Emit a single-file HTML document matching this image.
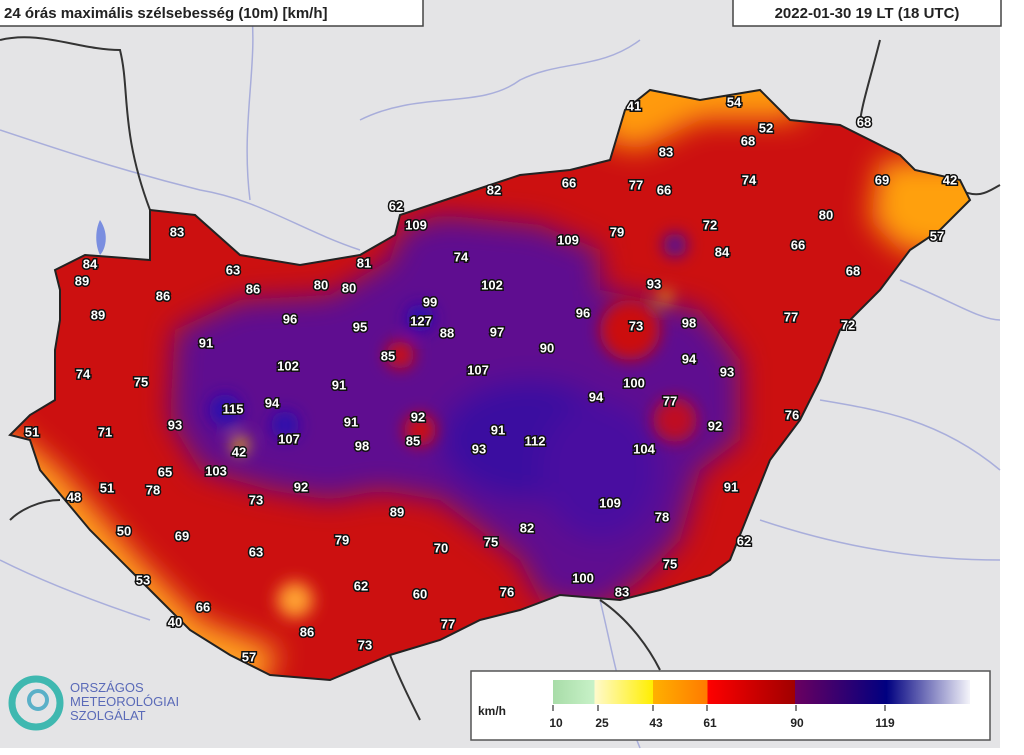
<!DOCTYPE html>
<html><head><meta charset="utf-8"><style>
html,body{margin:0;padding:0;background:#fff;}
svg{display:block}
.l text{font-family:"Liberation Sans",sans-serif;font-weight:bold;font-size:13px;fill:#fff;stroke:#111;stroke-width:3px;paint-order:stroke;text-anchor:middle;dominant-baseline:central}
</style></head><body>
<svg width="1024" height="755" viewBox="0 0 1024 755" xmlns="http://www.w3.org/2000/svg">
<defs>
<filter id="b" x="-30%" y="-30%" width="160%" height="160%"><feGaussianBlur stdDeviation="14"/></filter>
<filter id="b2" x="-30%" y="-30%" width="160%" height="160%"><feGaussianBlur stdDeviation="8"/></filter>
<clipPath id="hu"><path id="hp" d="M55,270 L85,255 L150,260 L150,210 L195,215 L240,255 L300,265 L360,255 L395,235 L400,215 L460,195 L520,175 L570,170 L610,160 L625,110 L650,90 L700,100 L760,90 L790,120 L840,125 L900,155 L915,170 L960,180 L970,200 L940,230 L910,250 L880,290 L840,330 L820,380 L800,420 L770,460 L750,510 L730,560 L710,575 L660,590 L620,600 L560,595 L520,610 L480,620 L440,640 L390,655 L330,680 L270,675 L230,655 L190,630 L160,600 L130,570 L90,530 L40,470 L30,440 L10,435 L30,415 L55,400 L55,350 L60,320 L60,290 Z"/></clipPath>
<linearGradient id="lg" x1="0" x2="1"><stop offset="0" stop-color="#a8dca8"/><stop offset="0.1" stop-color="#c8f2c8"/><stop offset="0.1" stop-color="#fffacc"/><stop offset="0.24" stop-color="#ffee00"/><stop offset="0.24" stop-color="#ffb000"/><stop offset="0.37" stop-color="#ff7a00"/><stop offset="0.37" stop-color="#ff0000"/><stop offset="0.58" stop-color="#a00000"/><stop offset="0.58" stop-color="#6a0060"/><stop offset="0.8" stop-color="#000080"/><stop offset="1" stop-color="#f4f4fa"/></linearGradient>
</defs>
<rect width="1024" height="755" fill="#fff"/>
<rect width="1000" height="748" fill="#e4e4e6"/>
<g fill="none" stroke="#9aa0d8" stroke-width="1.5" opacity="0.8">
<path d="M0,130 C60,150 120,170 200,190 C260,200 300,230 360,250"/>
<path d="M250,0 C260,60 240,120 250,200"/>
<path d="M360,120 C420,90 480,110 520,80 C560,60 600,70 640,40"/>
<path d="M900,280 C950,300 980,320 1000,320"/>
<path d="M820,400 C880,410 940,420 1000,470"/>
<path d="M760,520 C820,540 900,560 1000,560"/>
<path d="M0,560 C40,580 90,600 150,620"/>
<path d="M600,600 C610,640 620,700 640,748"/>
</g>
<g fill="none" stroke="#333" stroke-width="2">
<path d="M0,40 C40,30 80,50 120,50 C130,90 120,130 150,210"/>
<path d="M880,40 C870,80 860,110 860,125"/>
<path d="M960,190 C980,200 990,190 1000,185"/>
<path d="M10,520 C20,510 40,500 60,500"/>
<path d="M600,600 C630,620 650,650 660,670"/>
<path d="M390,655 C400,680 410,700 420,720"/>
</g>
<path d="M100,220 C110,235 105,250 100,255 C95,245 95,230 100,220Z" fill="#7a8ee0"/>
<g clip-path="url(#hu)">
<rect width="1024" height="755" fill="#cc1010"/>
<g filter="url(#b)">
<path d="M0,420 L60,470 L140,560 L200,620 L280,650 L260,690 L160,700 L60,640 L0,560Z" fill="#ffa020"/>
<path d="M600,60 L800,60 L800,120 L700,120 L640,150 L600,140Z" fill="#ff9a10"/>
<path d="M880,160 L1000,160 L1000,260 L900,250 L870,220Z" fill="#ffa010"/>
<path d="M175,330 L240,300 L330,295 L390,260 L400,230 L440,215 L540,225 L600,250 L600,290 L700,310 L740,360 L740,440 L700,470 L680,540 L640,580 L600,610 L540,600 L520,560 L440,500 L380,490 L330,500 L270,490 L200,470 L170,420 Z" fill="#5e1090"/>
<ellipse cx="530" cy="440" rx="90" ry="60" fill="#3a0aa0"/>
<ellipse cx="600" cy="470" rx="60" ry="70" fill="#4a0aa0"/>
</g>
<g filter="url(#b2)">
<circle cx="400" cy="355" r="14" fill="#d01010"/>
<circle cx="420" cy="430" r="16" fill="#d01010"/>
<circle cx="630" cy="330" r="30" fill="#cc1010"/>
<circle cx="675" cy="420" r="22" fill="#c01020"/>
<circle cx="295" cy="600" r="18" fill="#ffa030"/>
<circle cx="240" cy="445" r="8" fill="#ffd000"/>
<circle cx="665" cy="297" r="6" fill="#ffe000"/>
<circle cx="675" cy="245" r="12" fill="#4a0aa0"/>
<circle cx="225" cy="410" r="16" fill="#2a10b0"/>
<circle cx="285" cy="425" r="14" fill="#2a10b0"/>
<circle cx="420" cy="318" r="14" fill="#2a10b0"/>
</g>
</g>
<use href="#hp" fill="none" stroke="#222" stroke-width="2"/>
<g class="l">
<text x="634" y="106">41</text><text x="734" y="102">54</text><text x="766" y="128">52</text><text x="864" y="122">68</text><text x="666" y="152">83</text><text x="748" y="141">68</text><text x="569" y="183">66</text><text x="636" y="185">77</text><text x="664" y="190">66</text><text x="749" y="180">74</text><text x="494" y="190">82</text><text x="882" y="180">69</text><text x="950" y="180">42</text><text x="396" y="206">62</text><text x="416" y="225">109</text><text x="617" y="232">79</text><text x="710" y="225">72</text><text x="826" y="215">80</text><text x="937" y="236">57</text><text x="177" y="232">83</text><text x="568" y="240">109</text><text x="722" y="252">84</text><text x="798" y="245">66</text><text x="461" y="257">74</text><text x="90" y="264">84</text><text x="364" y="263">81</text><text x="233" y="270">63</text><text x="82" y="281">89</text><text x="253" y="289">86</text><text x="321" y="285">80</text><text x="349" y="288">80</text><text x="492" y="285">102</text><text x="654" y="284">93</text><text x="853" y="271">68</text><text x="163" y="296">86</text><text x="430" y="302">99</text><text x="791" y="317">77</text><text x="98" y="315">89</text><text x="290" y="319">96</text><text x="360" y="327">95</text><text x="421" y="321">127</text><text x="447" y="333">88</text><text x="497" y="332">97</text><text x="583" y="313">96</text><text x="636" y="326">73</text><text x="689" y="323">98</text><text x="848" y="325">72</text><text x="206" y="343">91</text><text x="388" y="356">85</text><text x="547" y="348">90</text><text x="689" y="359">94</text><text x="288" y="366">102</text><text x="478" y="370">107</text><text x="727" y="372">93</text><text x="83" y="374">74</text><text x="141" y="382">75</text><text x="339" y="385">91</text><text x="634" y="383">100</text><text x="670" y="401">77</text><text x="596" y="397">94</text><text x="233" y="409">115</text><text x="272" y="403">94</text><text x="418" y="417">92</text><text x="351" y="422">91</text><text x="715" y="426">92</text><text x="792" y="415">76</text><text x="32" y="432">51</text><text x="105" y="432">71</text><text x="175" y="425">93</text><text x="289" y="439">107</text><text x="498" y="430">91</text><text x="535" y="441">112</text><text x="362" y="446">98</text><text x="413" y="441">85</text><text x="479" y="449">93</text><text x="644" y="449">104</text><text x="239" y="452">42</text><text x="165" y="472">65</text><text x="216" y="471">103</text><text x="153" y="490">78</text><text x="107" y="488">51</text><text x="74" y="497">48</text><text x="301" y="487">92</text><text x="256" y="500">73</text><text x="731" y="487">91</text><text x="397" y="512">89</text><text x="610" y="503">109</text><text x="662" y="517">78</text><text x="124" y="531">50</text><text x="182" y="536">69</text><text x="527" y="528">82</text><text x="744" y="541">62</text><text x="342" y="540">79</text><text x="441" y="548">70</text><text x="491" y="542">75</text><text x="256" y="552">63</text><text x="670" y="564">75</text><text x="143" y="580">53</text><text x="361" y="586">62</text><text x="583" y="578">100</text><text x="622" y="592">83</text><text x="507" y="592">76</text><text x="420" y="594">60</text><text x="203" y="607">66</text><text x="175" y="622">40</text><text x="307" y="632">86</text><text x="448" y="624">77</text><text x="365" y="645">73</text><text x="249" y="657">57</text>
</g>
<rect x="-2" y="-2" width="425" height="28" fill="#fff" stroke="#444" stroke-width="1.5"/>
<text x="4" y="18" font-family="Liberation Sans,sans-serif" font-weight="bold" font-size="15" fill="#222">24 órás maximális szélsebesség (10m) [km/h]</text>
<rect x="733" y="-2" width="268" height="28" fill="#fff" stroke="#444" stroke-width="1.5"/>
<text x="867" y="18" text-anchor="middle" font-family="Liberation Sans,sans-serif" font-weight="bold" font-size="15" fill="#222">2022-01-30 19 LT (18 UTC)</text>
<rect x="471" y="671" width="519" height="69" fill="#fff" stroke="#555" stroke-width="1.5"/>
<rect x="553" y="680" width="417" height="24" fill="url(#lg)"/>
<g font-family="Liberation Sans,sans-serif" font-weight="bold" font-size="12" fill="#222" text-anchor="middle">
<text x="492" y="715">km/h</text>
<text x="556" y="727">10</text><text x="602" y="727">25</text><text x="656" y="727">43</text><text x="710" y="727">61</text><text x="797" y="727">90</text><text x="885" y="727">119</text>
</g>
<g stroke="#333" stroke-width="1.2"><path d="M553,705v6M598,705v6M653,705v6M707,705v6M796,705v6M885,705v6"/></g>
<circle cx="36" cy="703" r="24" fill="none" stroke="#3fb8b0" stroke-width="7"/>
<circle cx="38" cy="700" r="9" fill="none" stroke="#5ab0c8" stroke-width="4"/>
<g font-family="Liberation Sans,sans-serif" font-size="13" fill="#5a6ab8">
<text x="70" y="692">ORSZÁGOS</text><text x="70" y="706">METEOROLÓGIAI</text><text x="70" y="720">SZOLGÁLAT</text>
</g>
</svg>
</body></html>
